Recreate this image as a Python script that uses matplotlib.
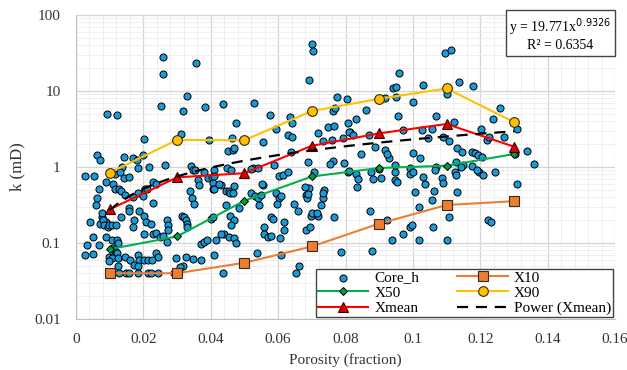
import numpy as np
import matplotlib.pyplot as plt
from matplotlib.ticker import FixedLocator, MultipleLocator, LogLocator, NullFormatter

plt.rcParams['font.family'] = ['Liberation Serif', 'DejaVu Serif']

# core samples (porosity fraction, permeability mD)
core_phi = [
    0.0027, 0.0054, 0.0068, 0.0061, 0.0071, 0.0092, 0.0123, 0.0142, 0.0168, 0.0181, 0.0198, 0.0136, 0.0183,
    0.0117, 0.0130, 0.0143, 0.0158, 0.0089, 0.0110, 0.0117, 0.0127, 0.0134,
    0.0183, 0.0198, 0.0145, 0.0168, 0.0062, 0.0059, 0.0077, 0.0076, 0.0156, 0.0158, 0.0188, 0.0134, 0.0173,
    0.0042, 0.0089, 0.0071, 0.0079, 0.0083, 0.0094, 0.0099, 0.0107, 0.0119, 0.0170, 0.0049, 0.0089, 0.0107,
    0.0121, 0.0124, 0.0034, 0.0069, 0.0111, 0.0113, 0.0117, 0.0119, 0.0123, 0.0027, 0.0051, 0.0098, 0.0107,
    0.0125, 0.0144, 0.0160, 0.0183, 0.0188, 0.0099, 0.0124, 0.0173, 0.0183,
    0.0129, 0.0148, 0.0158, 0.0183, 0.0213, 0.0223, 0.0242, 0.0292,
    0.0202, 0.0257, 0.0258, 0.0253, 0.0356, 0.0330, 0.0318, 0.0384, 0.0313, 0.0395, 0.0263, 0.0341, 0.0218,
    0.0346, 0.0353, 0.0380, 0.0228, 0.0237, 0.0204, 0.0210, 0.0228, 0.0203, 0.0208, 0.0223, 0.0270, 0.0274,
    0.0315, 0.0321, 0.0326, 0.0329, 0.0329, 0.0203, 0.0228, 0.0237, 0.0249, 0.0259, 0.0269, 0.0237, 0.0242,
    0.0203, 0.0213, 0.0226, 0.0297, 0.0317, 0.0346, 0.0371, 0.0380, 0.0390, 0.0363, 0.0365, 0.0393, 0.0404,
    0.0407, 0.0407, 0.0343, 0.0351, 0.0338, 0.0400, 0.0372, 0.0328, 0.0274, 0.0309,
    0.0700, 0.0703, 0.0692, 0.0435, 0.0529, 0.0774, 0.0804, 0.0576, 0.0635, 0.0641, 0.0475, 0.0593, 0.0762,
    0.0769, 0.0749, 0.0765, 0.0814, 0.0463, 0.0554, 0.0630, 0.0641, 0.0717, 0.0732, 0.0759, 0.0794, 0.0450,
    0.0465, 0.0470, 0.0638, 0.0690, 0.0764, 0.0755, 0.0796, 0.0589, 0.0447, 0.0525, 0.0540,
    0.0409, 0.0409, 0.0460, 0.0520, 0.0603, 0.0613, 0.0630, 0.0705, 0.0806, 0.0410, 0.0430, 0.0468, 0.0445,
    0.0485, 0.0520, 0.0530, 0.0540, 0.0544, 0.0549, 0.0554, 0.0593, 0.0603, 0.0608, 0.0598, 0.0646, 0.0660,
    0.0682, 0.0692, 0.0687, 0.0737, 0.0732, 0.0727, 0.0406, 0.0458, 0.0470, 0.0460, 0.0440, 0.0430, 0.0455,
    0.0470, 0.0475, 0.0415, 0.0579, 0.0584, 0.0618, 0.0618, 0.0559, 0.0559, 0.0569, 0.0579, 0.0606, 0.0697,
    0.0717, 0.0766, 0.0682, 0.0694, 0.0410, 0.0536, 0.0608, 0.0786, 0.0435, 0.0653, 0.0663, 0.0800,
    0.0425, 0.0445, 0.0455, 0.0458, 0.0465, 0.0553, 0.0810, 0.0830, 0.0838, 0.0833, 0.0680, 0.0690, 0.0700,
    0.0714, 0.0734,
    0.1096, 0.1113, 0.0959, 0.0940, 0.0950, 0.1030, 0.1136, 0.1177, 0.0918, 0.0950, 0.1001, 0.1100, 0.0860,
    0.0955, 0.1070, 0.0806, 0.0830, 0.1123, 0.0811, 0.0821, 0.0869, 0.0970, 0.1027, 0.1056, 0.1202, 0.1044,
    0.1090, 0.1106, 0.0888, 0.0918, 0.0846, 0.0930, 0.0999, 0.1020, 0.1130, 0.1145, 0.1175, 0.1184, 0.1194,
    0.1206, 0.1128, 0.1148, 0.0947, 0.0991, 0.1068, 0.1174, 0.1243, 0.1303, 0.1308, 0.1258, 0.1237, 0.1219,
    0.1227, 0.1270, 0.1338, 0.1360, 0.1310, 0.0922,
    0.0875, 0.0882, 0.0900, 0.0905, 0.0947, 0.0947, 0.0952, 0.0990, 0.1000, 0.1029, 0.1037, 0.1066, 0.1086,
    0.1090, 0.1126, 0.1143, 0.1197, 0.1209, 0.1006, 0.1056, 0.1063, 0.1131, 0.1017, 0.0873, 0.0922, 0.1108,
    0.0992, 0.0997, 0.1060, 0.0971, 0.0937, 0.1017, 0.1101, 0.0880, 0.1224, 0.1231, 0.1128, 0.1191,
]
core_k = [
    0.76, 0.76, 0.51, 1.42, 1.25, 5.0, 4.8, 1.37, 1.3, 1.25, 1.44, 1.0, 0.96,
    0.80, 0.85, 0.72, 0.74, 0.64, 0.59, 0.52, 0.52, 0.48,
    0.45, 0.41, 0.43, 0.40, 0.39, 0.32, 0.22, 0.25, 0.29, 0.26, 0.26, 0.22, 0.20,
    0.19, 0.19, 0.18, 0.20, 0.17, 0.16, 0.17, 0.17, 0.17, 0.16, 0.12, 0.12, 0.11,
    0.11, 0.10, 0.094, 0.094, 0.085, 0.08, 0.078, 0.076, 0.075, 0.069, 0.072, 0.066, 0.063,
    0.063, 0.066, 0.06, 0.069, 0.059, 0.058, 0.05, 0.052, 0.05,
    0.04, 0.04, 0.04, 0.04, 0.04, 0.04, 0.04, 0.04,
    2.35, 28, 16.5, 6.3, 23.5, 8.7, 5.4, 6.1, 2.7, 2.3, 1.06, 1.04, 1.0,
    0.91, 0.90, 0.87, 0.64, 0.60, 0.52, 0.51, 0.34, 0.23, 0.19, 0.18, 0.20, 0.17,
    0.23, 0.22, 0.20, 0.18, 0.16, 0.13, 0.13, 0.135, 0.12, 0.125, 0.104, 0.074, 0.066,
    0.059, 0.059, 0.059, 0.063, 0.05, 0.061, 0.096, 0.104, 0.11, 0.67, 0.58, 0.71, 0.73,
    0.62, 0.52, 0.39, 0.33, 0.48, 0.21, 0.06, 0.066, 0.15, 0.048,
    41, 34, 14, 6.7, 6.9, 8.3, 7.8, 4.9, 4.6, 3.8, 3.75, 3.2, 5.4,
    5.9, 3.4, 3.5, 2.86, 2.4, 2.15, 2.6, 2.5, 2.8, 2.2, 2.3, 2.4, 1.62,
    1.68, 1.8, 1.59, 1.15, 1.2, 1.08, 1.12, 1.06, 0.97, 0.97, 0.97,
    0.91, 0.75, 0.91, 0.94, 0.75, 0.78, 0.87, 0.87, 0.87, 0.52, 0.58, 0.57, 0.32,
    0.29, 0.45, 0.41, 0.39, 0.32, 0.43, 0.58, 0.45, 0.39, 0.41, 0.33, 0.33, 0.26,
    0.43, 0.53, 0.39, 0.5, 0.39, 0.32, 0.22, 0.23, 0.2, 0.17, 0.13, 0.13, 0.12,
    0.117, 0.1, 0.11, 0.22, 0.21, 0.19, 0.15, 0.16, 0.13, 0.12, 0.125, 0.115, 0.23,
    0.23, 0.22, 0.15, 0.16, 0.069, 0.073, 0.069, 0.077, 0.04, 0.04, 0.05, 0.039,
    0.6, 0.48, 0.48, 0.46, 0.46, 0.6, 0.89, 0.81, 0.69, 0.55, 0.54, 0.44, 0.25,
    0.25, 0.45,
    32, 35, 17.5, 11, 11.3, 11.9, 13, 11.5, 8, 8.4, 7.1, 9, 5.6,
    4.7, 4.7, 3.75, 4.3, 3.95, 2.9, 2.6, 2.6, 3.06, 3.06, 3.17, 3.2, 2.38,
    2.5, 2.22, 1.85, 1.67, 1.47, 1.3, 1.51, 1.3, 1.76, 1.56, 1.56, 1.54, 1.44,
    1.34, 1.17, 1.06, 1.06, 0.96, 1.01, 1.04, 0.87, 1.48, 3.2, 5.9, 4.3, 2.26,
    2.46, 2.5, 1.64, 1.08, 0.6, 1.48,
    0.87, 0.69, 0.94, 0.71, 0.87, 0.67, 0.64, 0.80, 0.87, 0.74, 0.6, 0.91, 0.71,
    0.61, 0.87, 1.0, 0.87, 0.78, 0.47, 0.37, 0.48, 0.47, 0.30, 0.26, 0.2, 0.22,
    0.16, 0.17, 0.16, 0.13, 0.11, 0.11, 0.11, 0.079, 0.2, 0.19, 0.78, 0.91,
]

# binned statistics
bin_phi = [0.01, 0.03, 0.05, 0.07, 0.09, 0.11, 0.13]
x10 = [0.04, 0.04, 0.055, 0.09, 0.18, 0.316, 0.355]
x50 = [0.083, 0.122, 0.36, 0.75, 0.97, 1.04, 1.48]
x90 = [0.84, 2.27, 2.25, 5.45, 7.9, 10.8, 3.9]
xmean = [0.277, 0.73, 0.83, 1.9, 2.77, 3.68, 1.85]

# power trend of Xmean: y = a * x^b
pow_a = 19.771
pow_b = 0.9326
pow_r2 = 0.6354

fig = plt.figure(figsize=(6.27, 3.70), dpi=100)
ax = fig.add_axes([0.1212, 0.1378, 0.8597, 0.8217])

ax.scatter(core_phi, core_k, s=26, c='#1A9AD6', edgecolors='black',
           linewidths=0.7, zorder=3, label='Core_h')

ax.plot(bin_phi, x10, color='#ED7D31', lw=1.5, marker='s', ms=7,
        mfc='#ED7D31', mec='#3a2a1a', mew=0.8, zorder=4, label='X10')
ax.plot(bin_phi, x50, color='#00B050', lw=1.5, marker='D', ms=4.5,
        mfc='#00A040', mec='black', mew=0.7, zorder=4, label='X50')
ax.plot(bin_phi, x90, color='#FFC000', lw=1.5, marker='o', ms=7,
        mfc='#FFC000', mec='#3a2a1a', mew=0.8, zorder=4, label='X90')
ax.plot(bin_phi, xmean, color='#FF0000', lw=1.5, marker='^', ms=7,
        mfc='#E00000', mec='#3a0000', mew=0.8, zorder=4, label='Xmean')

phi_fit = np.linspace(bin_phi[0], bin_phi[-1], 60)
ax.plot(phi_fit, pow_a * phi_fit ** pow_b, color='black', lw=1.6,
        ls=(0, (5, 3.5)), zorder=5, label='Power (Xmean)')

ax.set_yscale('log')
ax.set_xlim(0, 0.16)
ax.set_ylim(0.01, 100)

ax.xaxis.set_minor_locator(MultipleLocator(0.004))
ax.yaxis.set_major_locator(FixedLocator([0.01, 0.1, 1, 10, 100]))
ax.yaxis.set_minor_locator(LogLocator(base=10, subs=np.arange(2, 10)))
ax.yaxis.set_minor_formatter(NullFormatter())
ax.set_xticks([0, 0.02, 0.04, 0.06, 0.08, 0.1, 0.12, 0.14, 0.16])
ax.set_xticklabels(['0', '0.02', '0.04', '0.06', '0.08', '0.1', '0.12', '0.14', '0.16'])
ax.set_yticklabels(['0.01', '0.1', '1', '10', '100'])

ax.grid(which='major', color='#D4D4D4', lw=0.9, zorder=0)
ax.grid(which='minor', color='#EDEDED', lw=0.6, zorder=0)
ax.set_axisbelow(True)
for s in ['top', 'right']:
    ax.spines[s].set_visible(False)
for s in ['left', 'bottom']:
    ax.spines[s].set_color('#BFBFBF')
ax.tick_params(which='both', length=0, labelsize=11, colors='#333333')
ax.tick_params(axis='x', pad=10)
ax.tick_params(axis='y', pad=11)

ax.set_xlabel('Porosity (fraction)', fontsize=11, color='#333333', labelpad=5)
ax.set_ylabel('k (mD)', fontsize=12, color='#333333', labelpad=6)

# equation box
ax.text(0.993, 0.995, 'y = 19.771x$^{0.9326}$\nR\u00b2 = 0.6354', transform=ax.transAxes,
        ha='right', va='top', multialignment='center', fontsize=10, linespacing=1.1,
        bbox=dict(boxstyle='square,pad=0.25', fc='white', ec='#444444', lw=1.0), zorder=6)

h, l = ax.get_legend_handles_labels()
order = [0, 2, 4, 1, 3, 5]
leg = ax.legend([h[i] for i in order], [l[i] for i in order], ncol=2,
                loc='lower right', bbox_to_anchor=(1.0, 0.0), fontsize=11,
                frameon=True, fancybox=False, framealpha=1, edgecolor='#444444',
                borderpad=0.15, labelspacing=0.1, handlelength=3.3,
                columnspacing=2.5, handletextpad=0.4, borderaxespad=0.1)
leg.get_frame().set_linewidth(1.0)
leg.set_zorder(7)

fig.savefig('out.png', dpi=100)
